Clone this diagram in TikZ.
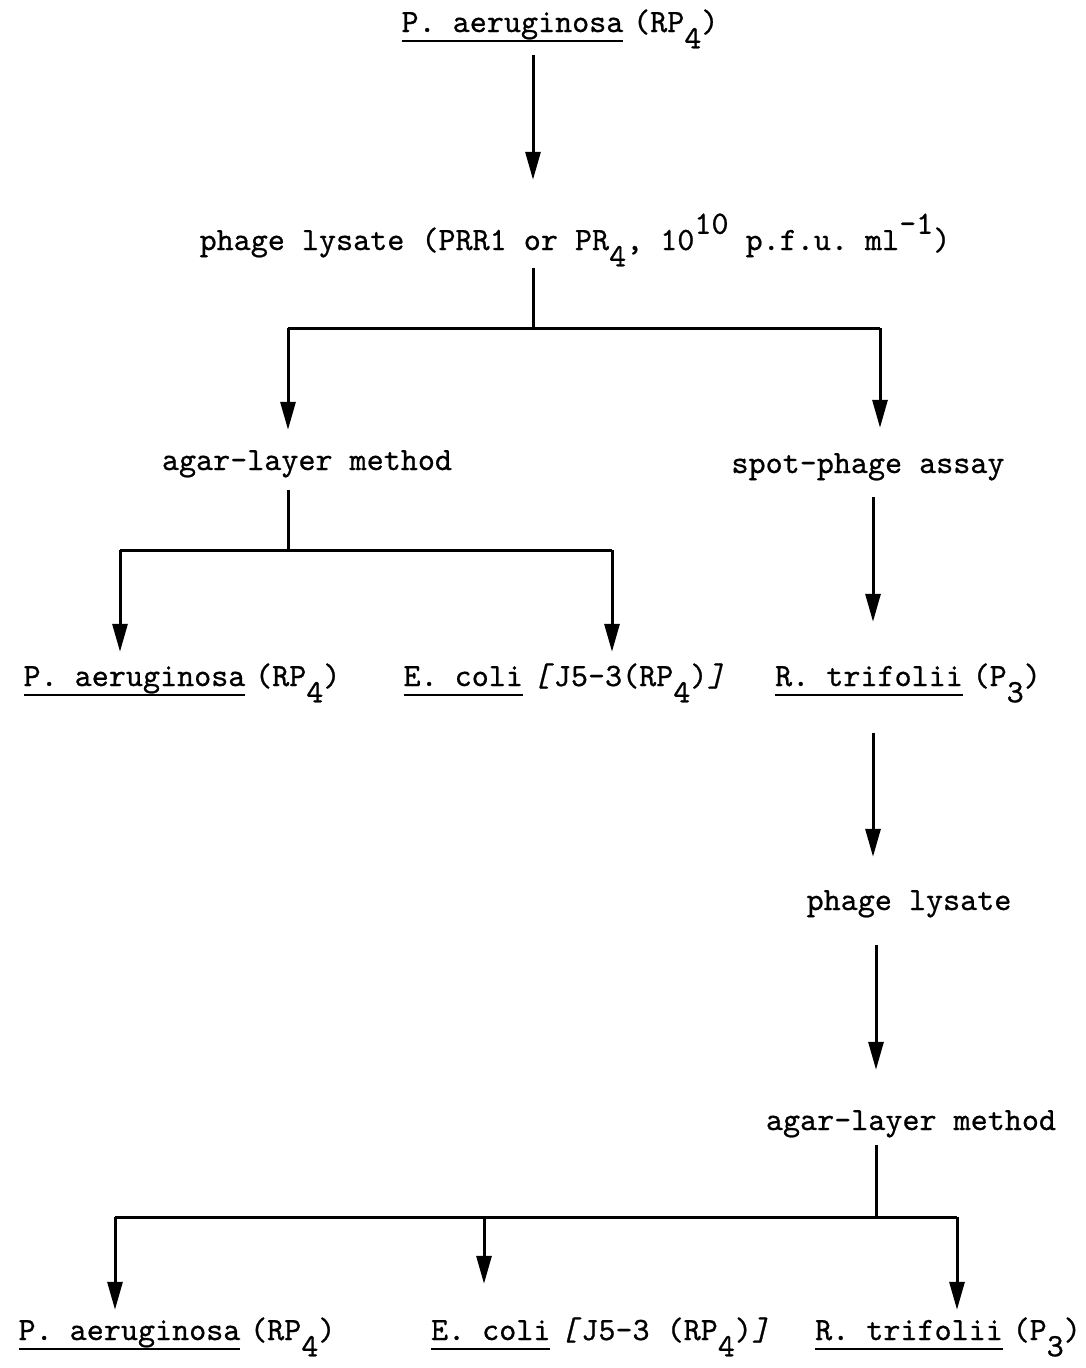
\documentclass[tikz,border=0pt]{standalone}
\usepackage{fontspec}
\setmonofont{lmmono10-regular.otf}[FakeBold=0.7, ItalicFont=lmmono10-italic.otf]
\usepackage{tikz}
\usetikzlibrary{positioning, arrows.meta}
\newcommand\spname[1]{\setbox0\hbox{#1}\rlap{\rule[-10pt]{\wd0}{2.2pt}}\box0\hspace{0.3em}}
\newcommand\lo[1]{\raisebox{-0.5em}{#1}}
\newcommand\hi[1]{\raisebox{0.5em}{#1}}
\newcommand\slbr[1]{\textit{#1}}

\begin{document}
\begin{tikzpicture}[
        x=1pt, y=-1pt,
        font=\ttfamily\fontsize{32.5}{36}\selectfont,
        label/.style={
            anchor=base, inner sep=0pt, text height=20pt, text depth=6pt
        },
        line/.style={draw=black, line width=3pt},
        arrow/.style={line, -{Triangle[length=28pt, width=15pt]}}
    ]
    \useasboundingbox (0,0) rectangle (1086,1368);

    % TOP NODE
    \node[label] (top) at (560, 32) {\spname{P. aeruginosa}(RP\lo{4})};

    % FIRST LYSATE
    \node[label] (lys) at (575, 250) {phage lysate (PRR1 or PR\lo{4}, 10\hi{10} p.f.u. ml\hi{-1})};

    % METHODS
    \node[label] (agar1) at (307, 470) {agar-layer method};
    \node[label] (spot)  at (868, 473) {spot-phage assay};

    % FIRST ROW OF HOSTS
    \node[label] (r1a) at (182, 686) {\spname{P. aeruginosa}(RP\lo{4})};
    \node[label] (r1b) at (564, 686) {\spname{E. coli}\slbr{[}J5-3(RP\lo{4})\slbr{]}};
    \node[label] (r1c) at (908, 686) {\spname{R. trifolii}(P\lo{3})};

    % SECOND LYSATE AND METHOD
    \node[label] (lys2)  at (909, 910)  {phage lysate};
    \node[label] (agar2) at (911, 1130) {agar-layer method};

    % SECOND ROW OF HOSTS
    \node[label] (r2a) at (177, 1340) {\spname{P. aeruginosa}(RP\lo{4})};
    \node[label] (r2b) at (600, 1340) {\spname{E. coli}\slbr{[}J5-3 (RP\lo{4})\slbr{]}};
    \node[label] (r2c) at (948, 1340) {\spname{R. trifolii}(P\lo{3})};

    % JUNCTIONS
    \coordinate (j0) at (533, 0);
    \coordinate (j1) at (533, 328);
    \coordinate (j2) at (288, 550);
    \coordinate (j3) at (876, 1217);
    \coordinate (sx) at (873, 0);

    % CONNECTORS
    \draw[arrow, shorten <=17pt, shorten >=50pt] (top.south -| j0) -- (lys.north -| j0);
    \draw[line, shorten <=12pt] (lys.south -| j1) -- (j1);
    \draw[line] (288,328) -- (880,328);
    \draw[arrow, shorten >=20pt] (288,328) -- (agar1.north -| 288,0);
    \draw[arrow, shorten >=25pt] (880,328) -- (spot.north -| 880,0);

    \draw[line, shorten <=14pt] (agar1.south -| j2) -- (j2);
    \draw[line] (120,550) -- (612,550);
    \draw[arrow, shorten >=14pt] (120,550) -- (r1a.north -| 120,0);
    \draw[arrow, shorten >=14pt] (612,550) -- (r1b.north -| 612,0);

    \draw[arrow, shorten <=18pt, shorten >=44pt] (spot.south -| sx) -- (r1c.north -| sx);
    \draw[arrow, shorten <=41pt, shorten >=33pt] (r1c.south -| sx) -- (lys2.north -| sx);
    \draw[arrow, shorten <=29pt, shorten >=40pt] (lys2.south -| j3) -- (agar2.north -| j3);

    \draw[line, shorten <=9pt] (agar2.south -| j3) -- (j3);
    \draw[line] (115,1217) -- (957,1217);
    \draw[arrow, shorten >=10pt] (115,1217) -- (r2a.north -| 115,0);
    \draw[arrow, shorten >=36pt] (484,1217) -- (r2b.north -| 484,0);
    \draw[arrow, shorten >=10pt] (957,1217) -- (r2c.north -| 957,0);

\end{tikzpicture}
\end{document}
